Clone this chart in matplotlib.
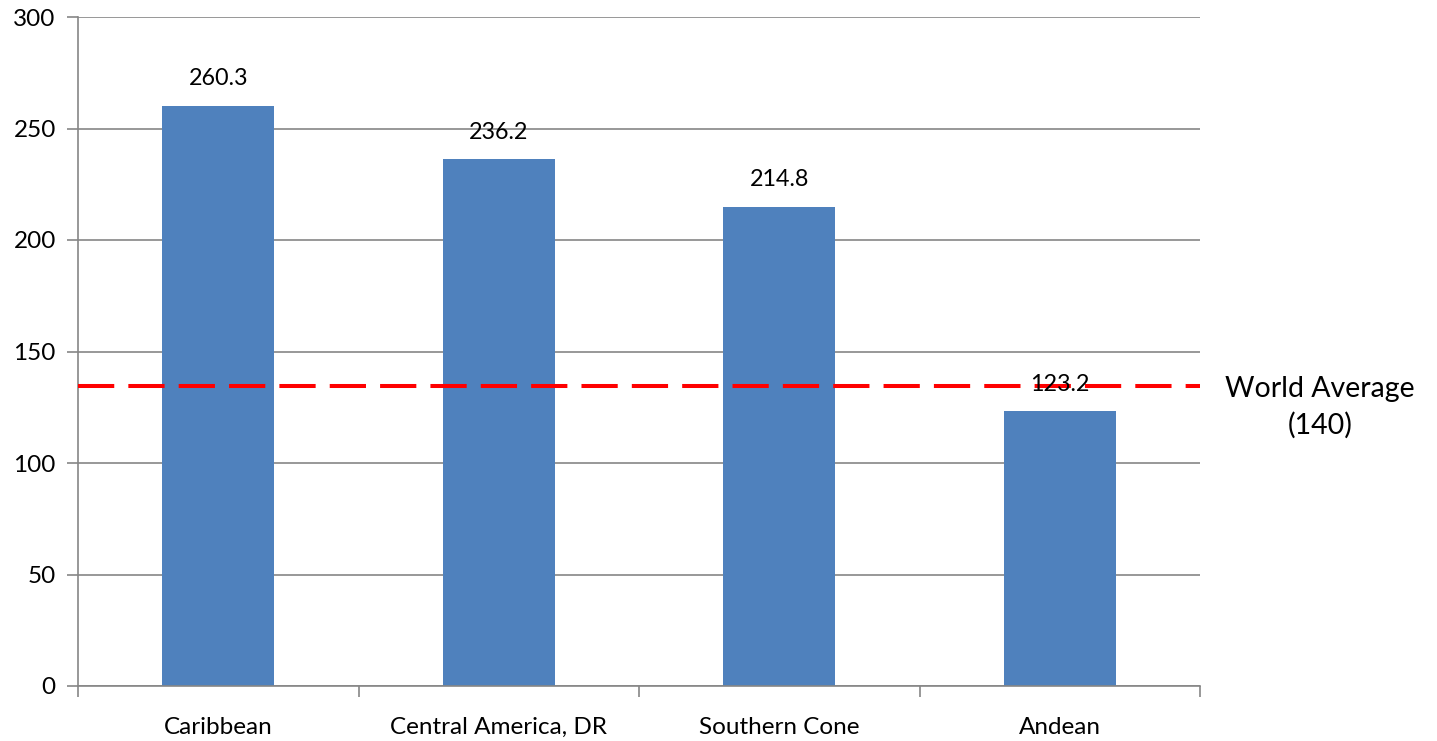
import matplotlib
matplotlib.use("Agg")
import matplotlib.pyplot as plt
import numpy as np
from matplotlib.ticker import FixedLocator, NullFormatter

categories = ["Caribbean", "Central America, DR", "Southern Cone", "Andean"]
values = [260.3, 236.2, 214.8, 123.2]
world_avg_line = 134.5
world_avg_label = "World Average\n(140)"
y_ticks = [0, 50, 100, 150, 200, 250, 300]

plt.rcParams["font.family"] = ["Lato", "DejaVu Sans"]

fig = plt.figure(figsize=(14.37, 7.41), dpi=100)
ax = fig.add_axes([78 / 1437, 1 - 686 / 741, (1200 - 78) / 1437, (686 - 17) / 741])

x = np.arange(len(categories))
bars = ax.bar(x, values, width=0.4, color="#4F81BD", zorder=2)

for xi, v in zip(x, values):
    ax.annotate(f"{v:.1f}", (xi, v), xytext=(0, 12), textcoords="offset points",
                ha="center", va="bottom", fontsize=16.8, color="black", zorder=4)

ax.axhline(world_avg_line, color="#FF0000", lw=2.9, linestyle=(0, (9, 3.5)), zorder=3)
ax.annotate(world_avg_label, (1.107, world_avg_line), xycoords=ax.get_yaxis_transform(),
            xytext=(0, -15), textcoords="offset points",
            ha="center", va="center", fontsize=20.5, linespacing=1.45,
            annotation_clip=False)

ax.set_xlim(-0.5, len(categories) - 0.5)
ax.set_ylim(0, 300)
ax.set_yticks(y_ticks)
ax.yaxis.grid(True, color="#868686", lw=1.2, zorder=0)
ax.set_axisbelow(True)

ax.xaxis.set_major_locator(FixedLocator(np.arange(len(categories) + 1) - 0.5))
ax.xaxis.set_major_formatter(NullFormatter())
ax.xaxis.set_minor_locator(FixedLocator(x))
ax.set_xticklabels(categories, minor=True)
ax.tick_params(axis="x", which="major", direction="out", length=8, color="#868686", width=1.2)
ax.tick_params(axis="x", which="minor", length=0, pad=22, labelsize=17.5)
ax.tick_params(axis="y", direction="out", length=8, color="#868686", width=1.2, pad=8, labelsize=17.5)

for s in ["top", "right"]:
    ax.spines[s].set_visible(False)
for s in ["left", "bottom"]:
    ax.spines[s].set_color("#868686")
    ax.spines[s].set_linewidth(1.2)

fig.savefig("out.png", dpi=100)
